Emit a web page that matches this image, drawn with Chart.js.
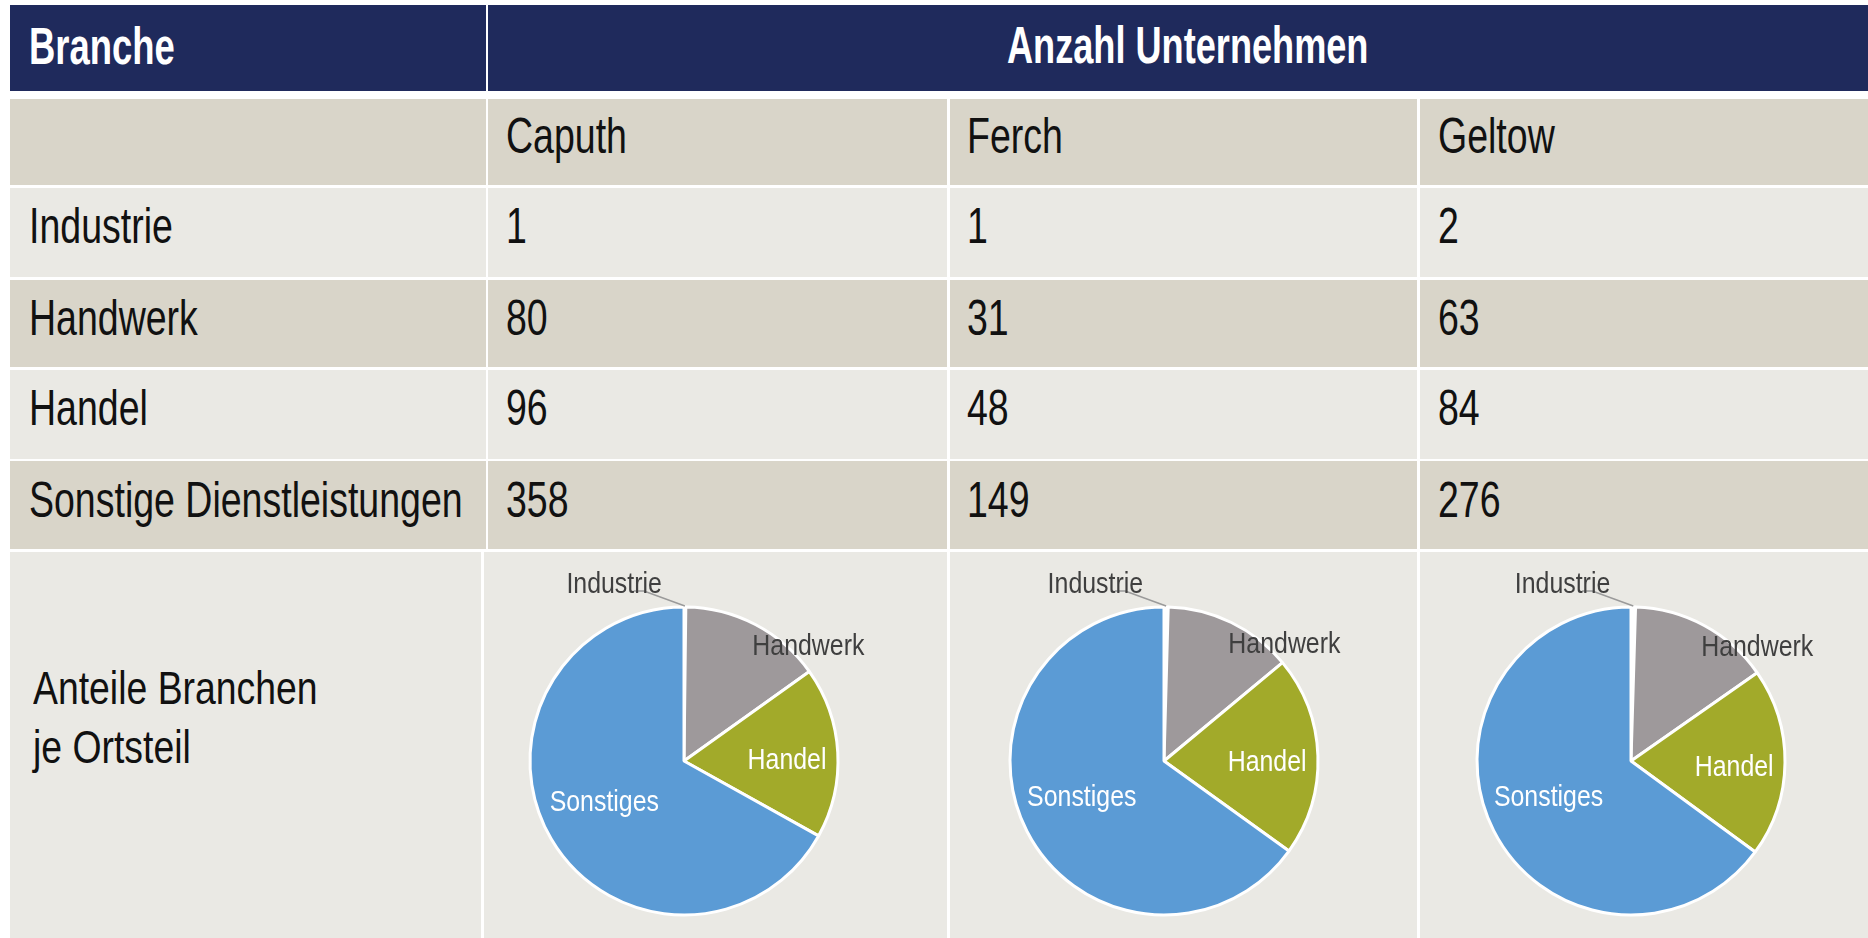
<!DOCTYPE html>
<html lang="de">
<head>
<meta charset="utf-8">
<title>Anzahl Unternehmen je Ortsteil</title>
<script src="https://cdn.jsdelivr.net/npm/chart.js@4.4.1/dist/chart.umd.min.js"></script>
<style>
  html, body { margin: 0; padding: 0; background: #fff; }
  body { width: 1868px; height: 938px; position: relative; overflow: hidden;
         font-family: "Liberation Sans", Arial, sans-serif; }
  .cell { position: absolute; }
  .txt { position: absolute; white-space: nowrap; line-height: 1; transform-origin: 0 0; }
  canvas { position: absolute; }
</style>
</head>
<body>
<script>
// data
const ortsteile = ['Caputh', 'Ferch', 'Geltow'];
const branchen = ['Industrie', 'Handwerk', 'Handel', 'Sonstige Dienstleistungen'];
const pieLabels = ['Industrie', 'Handwerk', 'Handel', 'Sonstiges'];
const caputh = [1, 80, 96, 358];
const ferch = [1, 31, 48, 149];
const geltow = [2, 63, 84, 276];
const werte = [caputh, ferch, geltow];

const sliceColors = ['#ffffff', '#9e999b', '#a2aa2a', '#5b9bd5'];
const NAVY = '#1f2a5c', DARK = '#d9d5c9', LIGHT = '#eae9e4';

// table layout
const cols = [[10, 486], [488, 947], [950, 1417], [1420, 1868]];
const rows = [
  { top: 99, h: 86, bg: DARK, base: 153 },
  { top: 188, h: 89, bg: LIGHT, base: 243 },
  { top: 280, h: 87, bg: DARK, base: 335 },
  { top: 370, h: 89, bg: LIGHT, base: 425 },
  { top: 461, h: 88, bg: DARK, base: 517 }
];

function addCell(x1, x2, top, h, bg) {
  const el = document.createElement('div');
  el.className = 'cell';
  el.style.cssText = `left:${x1}px;width:${x2 - x1}px;top:${top}px;height:${h}px;background:${bg}`;
  document.body.appendChild(el);
}

function addText(str, x, baseline, size, scale, color, bold) {
  const el = document.createElement('div');
  el.className = 'txt';
  el.textContent = str;
  el.style.fontSize = size + 'px';
  el.style.left = x + 'px';
  el.style.top = (baseline - 0.8465 * size) + 'px';
  el.style.transform = `scaleX(${scale})`;
  el.style.color = color;
  if (bold) el.style.fontWeight = 'bold';
  document.body.appendChild(el);
}

// header
addCell(10, 486, 5, 86, NAVY);
addCell(488, 1868, 5, 86, NAVY);
addText('Branche', 29, 64, 52, 0.70, '#fff', true);
addText('Anzahl Unternehmen', 1007, 63, 52, 0.695, '#fff', true);

// body rows
const textX = [29, 506, 967, 1438];
rows.forEach((r, ri) => {
  cols.forEach(c => addCell(c[0], c[1], r.top, r.h, r.bg));
  if (ri === 0) {
    ortsteile.forEach((o, k) => addText(o, textX[k + 1], r.base, 50, 0.75, '#111'));
  } else {
    addText(branchen[ri - 1], textX[0], r.base, 50, 0.75, '#111');
    werte.forEach((w, k) => addText(String(w[ri - 1]), textX[k + 1], r.base, 50, 0.75, '#111'));
  }
});

// pie row
addCell(10, 481, 552, 386, LIGHT);
addCell(484, 947, 552, 386, LIGHT);
addCell(950, 1417, 552, 386, LIGHT);
addCell(1420, 1868, 552, 386, LIGHT);
addText('Anteile Branchen', 33, 704, 47, 0.795, '#111');
addText('je Ortsteil', 33, 763, 47, 0.795, '#111');

function drawLabel(ctx, str, x, y, align, color) {
  ctx.save();
  ctx.translate(x, y);
  ctx.scale(0.83, 1);
  ctx.textAlign = align;
  ctx.textBaseline = 'alphabetic';
  ctx.fillStyle = color;
  ctx.fillText(str, 0, 0);
  ctx.restore();
}

const sliceLabels = {
  id: 'sliceLabels',
  afterDatasetsDraw(chart) {
    const ctx = chart.ctx;
    const arcs = chart.getDatasetMeta(0).data;
    ctx.save();
    ctx.font = '30px "Liberation Sans", Arial, sans-serif';
    arcs.forEach((arc, i) => {
      const p = arc.getProps(['x', 'y', 'startAngle', 'endAngle', 'outerRadius'], true);
      const mid = (p.startAngle + p.endAngle) / 2;
      const cos = Math.cos(mid), sin = Math.sin(mid);
      const name = chart.data.labels[i];
      if (i === 0) {
        const ex = p.x + cos * (p.outerRadius + 1), ey = p.y + sin * (p.outerRadius + 1);
        ctx.strokeStyle = '#9a9a9a';
        ctx.lineWidth = 1.5;
        ctx.beginPath();
        ctx.moveTo(ex - 51, ey - 15);
        ctx.lineTo(ex - 41, ey - 15);
        ctx.lineTo(ex, ey);
        ctx.stroke();
        drawLabel(ctx, name, ex - 23, ey - 13, 'right', '#3f3f3f');
      } else if (i === 1) {
        const ex = p.x + cos * p.outerRadius, ey = p.y + sin * p.outerRadius;
        drawLabel(ctx, name, ex - 3, ey + 30, 'left', '#3f3f3f');
      } else if (i === 2) {
        const r = p.outerRadius * 0.67;
        drawLabel(ctx, name, p.x + cos * r, p.y + sin * r + 14, 'center', '#ffffff');
      } else {
        const r = p.outerRadius * 0.6;
        drawLabel(ctx, name, p.x + cos * r, p.y + sin * r + 3, 'center', '#ffffff');
      }
    });
    ctx.restore();
  }
};

const pieCenters = [684, 1164, 1631];
werte.forEach((w, k) => {
  const cv = document.createElement('canvas');
  cv.width = 460;
  cv.height = 400;
  cv.style.left = (pieCenters[k] - 230) + 'px';
  cv.style.top = (761 - 200) + 'px';
  document.body.appendChild(cv);
  new Chart(cv.getContext('2d'), {
    type: 'pie',
    data: {
      labels: pieLabels,
      datasets: [{
        data: w,
        backgroundColor: sliceColors,
        borderColor: '#ffffff',
        borderWidth: 3,
        radius: 154
      }]
    },
    options: {
      responsive: false,
      animation: false,
      layout: { padding: 0 },
      plugins: { legend: { display: false }, tooltip: { enabled: false } }
    },
    plugins: [sliceLabels]
  });
});
</script>
</body>
</html>
